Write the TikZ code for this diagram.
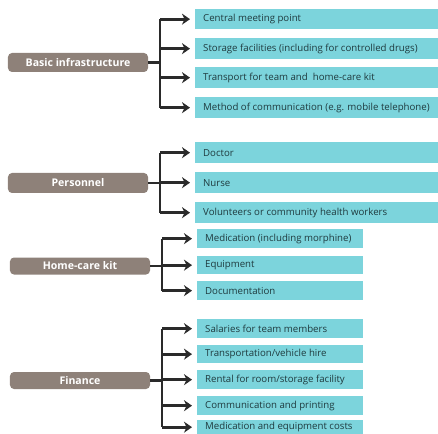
\documentclass[tikz,border=0pt]{standalone}
\usepackage{fontspec}
\setmainfont{Open Sans}
\usetikzlibrary{arrows.meta}
\definecolor{catfill}{HTML}{8E8179}
\definecolor{itemfill}{HTML}{7CD4DC}
\definecolor{itemtext}{HTML}{1F3A3E}
\definecolor{linecol}{HTML}{2A2A2A}
\tikzset{
  catbox/.style={fill=catfill, rounded corners=4bp, text=white,
    font=\bfseries\fontsize{10.6}{12}\selectfont, inner sep=0pt, anchor=center},
  itembox/.style={fill=itemfill, text=itemtext, font=\fontsize{9.7}{11}\selectfont,
    inner xsep=8bp, inner ysep=0pt, anchor=north west},
  trunk/.style={draw=linecol, line width=2.8bp},
  branch/.style={draw=linecol, line width=2.8bp,
    -{Stealth[length=8bp,width=11bp,inset=2.5bp]}, shorten >=5bp},
}
% item box: name, left x, top y, right x, bottom y, text (one line, left aligned)
\newcommand{\itemnode}[6]{%
  \pgfmathsetlengthmacro\itemw{(#4-#2-16)*1bp}%
  \node[itembox, minimum width=#4-#2, minimum height=#5-#3] (#1) at (#2,#3)
    {\hbox to \itemw{#6\hss}};}
\begin{document}
\begin{tikzpicture}[x=1bp,y=-1bp]
\useasboundingbox (0,0) rectangle (438,434);

% ---------------- Basic infrastructure ----------------
\node[catbox, minimum width=140bp, minimum height=19bp] (bi) at (78,62.5) {Basic infrastructure};
\itemnode{bi1}{195}{9}{438}{29}{Central meeting point}
\itemnode{bi2}{195}{38}{438}{59}{Storage facilities (including for controlled drugs)}
\itemnode{bi3}{195}{67}{438}{88}{Transport for team and\ \ home-care kit}
\itemnode{bi4}{195}{97}{438}{118}{Method of communication (e.g. mobile telephone)}
\coordinate (bit) at (160,0);
\draw[trunk] (bi.east) -- (bi.east -| bit);
\draw[trunk] (bi1.west -| bit) -- (bi4.west -| bit);
\foreach \n in {bi1,bi2,bi3,bi4} \draw[branch] (\n.west -| bit) -- (\n.west);

% ---------------- Personnel ----------------
\node[catbox, minimum width=140bp, minimum height=20bp] (pe) at (78,183) {Personnel};
\itemnode{pe1}{195}{142}{438}{163}{Doctor}
\itemnode{pe2}{195}{172}{438}{193}{Nurse}
\itemnode{pe3}{195}{202}{438}{223}{Volunteers or community health workers}
\coordinate (pet) at (160,0);
\draw[trunk] (pe.east) -- (pe.east -| pet);
\draw[trunk] (pe1.west -| pet) -- (pe3.west -| pet);
\foreach \n in {pe1,pe2,pe3} \draw[branch] (\n.west -| pet) -- (\n.west);

% ---------------- Home-care kit ----------------
\node[catbox, minimum width=140bp, minimum height=17bp] (hk) at (80,266) {Home-care kit};
\itemnode{hk1}{197}{229}{363}{248}{Medication (including morphine)}
\itemnode{hk2}{197}{256}{363}{274}{Equipment}
\itemnode{hk3}{197}{281}{363}{300}{Documentation}
\coordinate (hkt) at (162,0);
\draw[trunk] (hk.east) -- (hk.east -| hkt);
\draw[trunk] (hk1.west -| hkt) -- (hk3.west -| hkt);
\foreach \n in {hk1,hk2,hk3} \draw[branch] (\n.west -| hkt) -- (\n.west);

% ---------------- Finance ----------------
\node[catbox, minimum width=140bp, minimum height=17bp] (fi) at (80,380.5) {Finance};
\itemnode{fi1}{197}{319}{363}{338}{Salaries for team members}
\itemnode{fi2}{197}{345}{363}{363}{Transportation/vehicle hire}
\itemnode{fi3}{197}{370}{363}{389}{Rental for room/storage facility}
\itemnode{fi4}{197}{396}{363}{415}{Communication and printing}
\itemnode{fi5}{197}{420}{363}{434}{Medication and equipment costs}
\coordinate (fit) at (162,0);
\draw[trunk] (fi.east) -- (fi.east -| fit);
\draw[trunk] (fi1.west -| fit) -- (fi5.west -| fit);
\foreach \n in {fi1,fi2,fi3,fi4,fi5} \draw[branch] (\n.west -| fit) -- (\n.west);
\end{tikzpicture}
\end{document}
